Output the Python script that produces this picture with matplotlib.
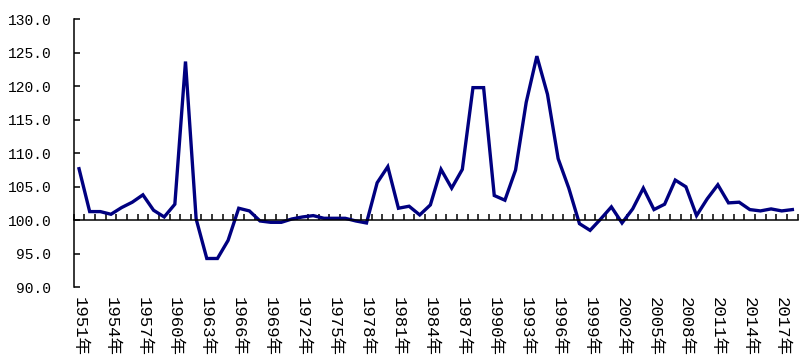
import numpy as np
from matplotlib import pyplot as plt

plt.rcParams['font.family'] = ['Liberation Mono', 'Noto Sans CJK SC']

years = list(range(1951, 2019))
index_values = [
    107.7, 101.3, 101.3, 100.9, 101.9, 102.7, 103.8, 101.5, 100.5, 102.4,
    123.7, 100.2, 94.3, 94.3, 97.0, 101.8, 101.4, 99.9, 99.7, 99.7,
    100.2, 100.5, 100.7, 100.3, 100.3, 100.3, 99.9, 99.6, 105.6, 108.0,
    101.8, 102.1, 100.8, 102.3, 107.6, 104.8, 107.6, 119.8, 119.8, 103.7,
    103.0, 107.5, 117.6, 124.5, 118.8, 109.2, 104.8, 99.5, 98.5, 100.2,
    102.0, 99.6, 101.7, 104.8, 101.6, 102.4, 106.0, 105.0, 100.7, 103.2,
    105.3, 102.6, 102.7, 101.6, 101.4, 101.7, 101.4, 101.6,
]
year_labels = [f'{y}年' for y in years]
y_ticks = [90, 95, 100, 105, 110, 115, 120, 125, 130]

fig = plt.figure(figsize=(8.1, 3.61), dpi=100)
ax = fig.add_axes([73.7 / 810, 1 - 287.3 / 361, (797.7 - 73.7) / 810, (287.3 - 19.3) / 361])

x = np.arange(len(years))
ax.plot(x, index_values, color='#000080', lw=2.4, solid_joinstyle='miter')

ax.set_xlim(-0.5, len(years) - 0.5)
ax.set_ylim(90, 130)

ax.spines['top'].set_visible(False)
ax.spines['right'].set_visible(False)
ax.spines['bottom'].set_position(('data', 100))
for s in ('left', 'bottom'):
    ax.spines[s].set_linewidth(1.1)

ax.set_yticks(y_ticks)
ax.set_yticklabels([f'{v:.1f}' for v in y_ticks])
ax.tick_params(axis='y', direction='in', length=4, width=1.1, pad=16,
               labelsize=10.5, colors='black')

ax.set_xticks(x[::3])
ax.set_xticklabels(year_labels[::3], rotation=-90)
ax.set_xticks(np.arange(-0.5, len(years)), minor=True)
ax.tick_params(axis='x', which='major', length=0, pad=55, labelsize=12.5)
ax.tick_params(axis='x', which='minor', direction='in', length=4, width=1.1)

fig.savefig('out.png', dpi=100)
